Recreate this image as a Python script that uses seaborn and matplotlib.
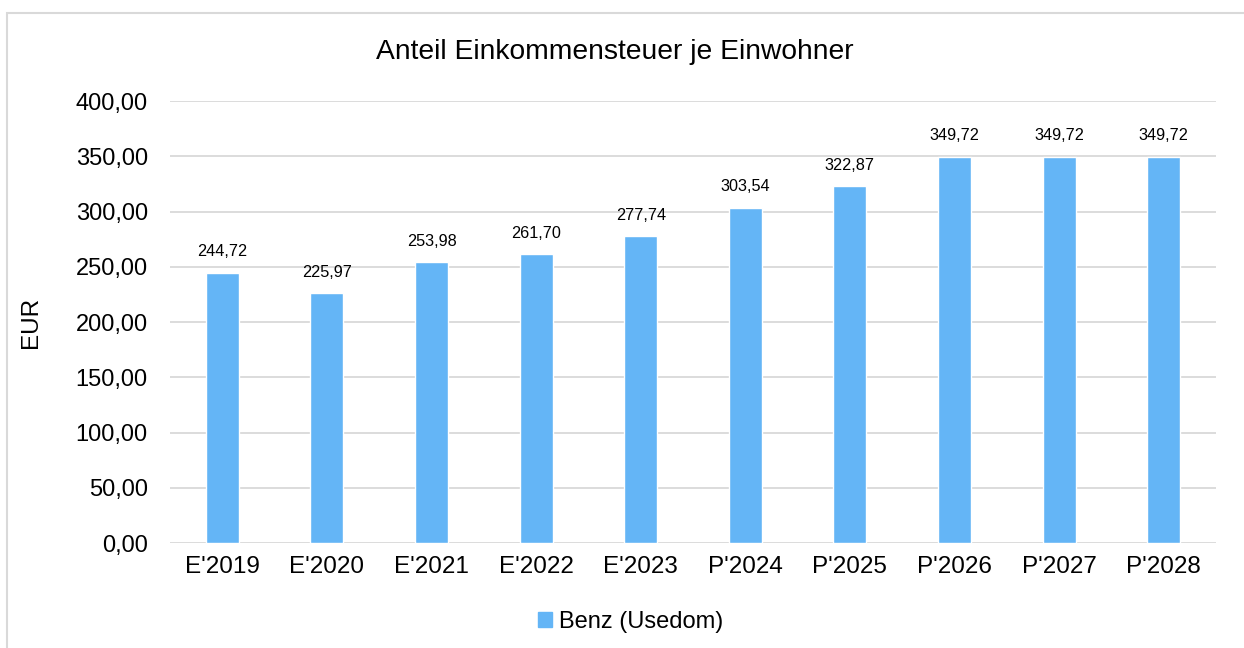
import matplotlib
matplotlib.use("Agg")
import matplotlib.pyplot as plt
import matplotlib.patches as mpatches
import seaborn as sns
import pandas as pd

# Daten
jahre = ["E'2019", "E'2020", "E'2021", "E'2022", "E'2023",
         "P'2024", "P'2025", "P'2026", "P'2027", "P'2028"]
werte = [244.72, 225.97, 253.98, 261.70, 277.74,
         303.54, 322.87, 349.72, 349.72, 349.72]
serie = "Benz (Usedom)"
y_ticks = [0, 50, 100, 150, 200, 250, 300, 350, 400]

df = pd.DataFrame({"Jahr": jahre, "EUR": werte})

sns.set_style("white")
plt.rcParams['font.family'] = ['Liberation Sans', 'DejaVu Sans']
plt.rcParams['text.color'] = 'black'
plt.rcParams['xtick.color'] = 'black'
plt.rcParams['ytick.color'] = 'black'
plt.rcParams['axes.labelcolor'] = 'black'

fig = plt.figure(figsize=(12.44, 6.48), dpi=100)
ax = fig.add_axes([0.1367, 0.162, 0.8408, 0.682])

sns.barplot(data=df, x="Jahr", y="EUR", color="#64B5F6", width=0.316,
            saturation=1, ax=ax, zorder=3)

ax.set_ylim(0, 400)
ax.set_yticks(y_ticks)
ax.set_yticklabels([f"{v:.2f}".replace(".", ",") for v in y_ticks], fontsize=17)
ax.tick_params(axis="x", labelsize=17.5, length=0, pad=9)
ax.tick_params(axis="y", length=0, pad=16)
ax.grid(axis="y", color="#d9d9d9", linewidth=1.3, zorder=0)
for s in ax.spines.values():
    s.set_visible(False)

for i, v in enumerate(werte):
    ax.text(i, v + 12, f"{v:.2f}".replace(".", ","), ha="center", va="bottom",
            fontsize=11.7)

ax.set_xlabel("")
ax.set_ylabel("EUR", fontsize=17.5)
ax.yaxis.set_label_coords(-0.122, 0.5)
fig.suptitle("Anteil Einkommensteuer je Einwohner", fontsize=20.3,
             x=0.494, y=0.92, va="center")

handle = mpatches.Patch(color="#64B5F6", label=serie)
fig.legend(handles=[handle], loc="center", bbox_to_anchor=(0.507, 0.04),
           frameon=False, fontsize=17, handlelength=0.6, handleheight=0.6,
           handletextpad=0.3)

# Rahmen des Diagramms
fig.patches.append(mpatches.Rectangle((0.0056, -0.05), 1.1, 1.03,
                                      transform=fig.transFigure, fill=False,
                                      edgecolor="#d9d9d9", linewidth=1.5))

fig.savefig("out.png", dpi=100)
